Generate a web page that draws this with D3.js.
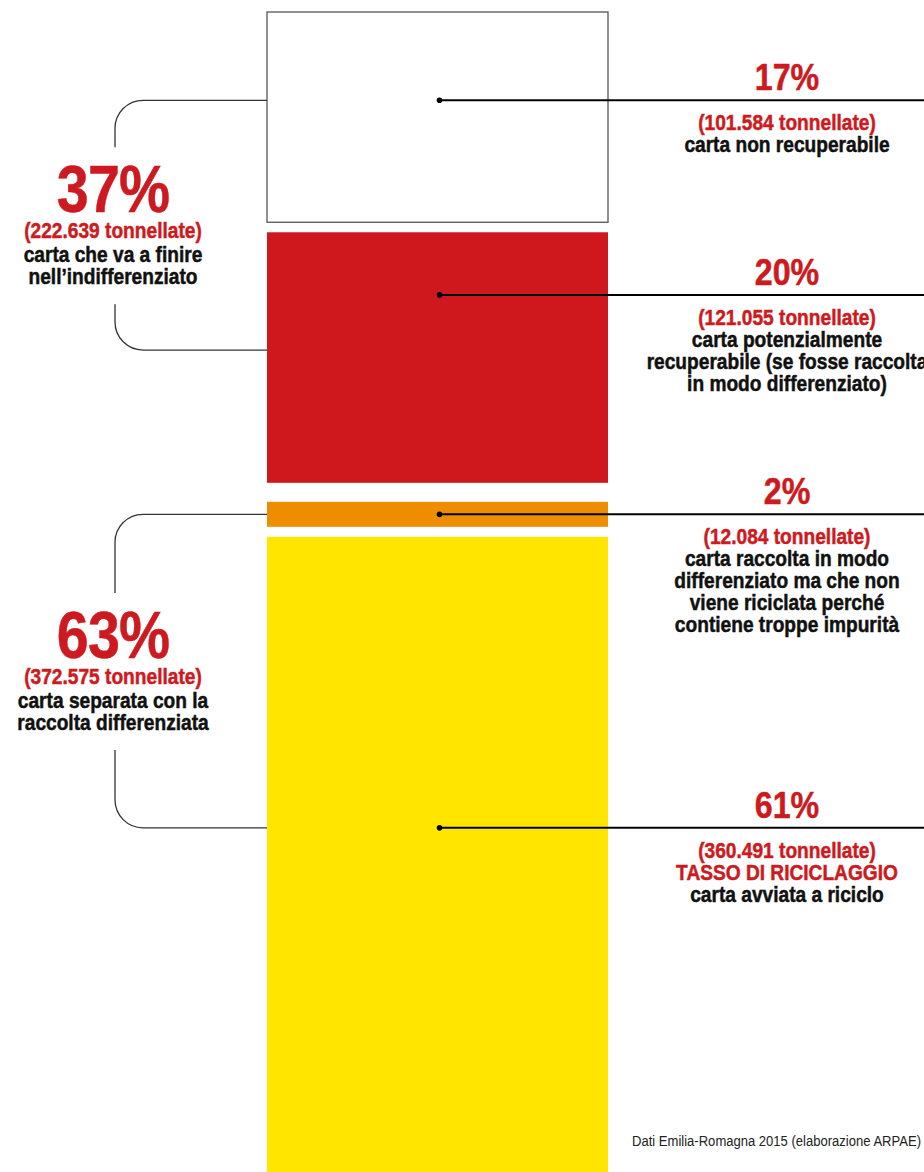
<!DOCTYPE html>
<html>

<head>
    <meta charset="utf-8">
    <script src="https://d3js.org/d3.v7.min.js"></script>
    <title>Carta in Emilia-Romagna</title>
    <style>
        body { margin: 0; background: #fff; }
        svg text {
            font-family: "Liberation Sans", Arial, sans-serif;
            font-weight: bold;
        }
        svg text.heavy { stroke-width: 0.5px; }
    </style>
</head>

<body>
    <div id="chart"></div>

    <script>
        // DATA
        var categories = ["non recuperabile", "potenzialmente recuperabile", "raccolta ma non riciclata", "avviata a riciclo"];
        var tonnes = [101584, 121055, 12084, 360491];
        var percents = ["17%", "20%", "2%", "61%"];
        var highlights = ["", "", "", "TASSO DI RICICLAGGIO"];
        var notes = [
            ["carta non recuperabile"],
            ["carta potenzialmente", "recuperabile (se fosse raccolta", "in modo differenziato)"],
            ["carta raccolta in modo", "differenziato ma che non", "viene riciclata perché", "contiene troppe impurità"],
            ["carta avviata a riciclo"]
        ];

        var groupOf = [0, 0, 1, 1];
        var groupTonnes = [222639, 372575];
        var groupPercents = ["37%", "63%"];
        var groupNotes = [
            ["carta che va a finire", "nell’indifferenziato"],
            ["carta separata con la", "raccolta differenziata"]
        ];

        var source = "Dati Emilia-Romagna 2015 (elaborazione ARPAE)";
        // END DATA

        var width = 924, height = 1172;
        var colors = ["#ffffff", "#ce181e", "#ee8d00", "#ffe500"];
        var red = "#cd1a20", ink = "#111";
        var barLeft = 267, barRight = 608, barTop = 12;
        var innerGap = 10, groupGap = 19;
        var labelX = 787, braceX = 115, braceR = 28;
        var squeeze = 0.87; // condensed look, no narrow font installed
        // where the leader lines / braces leave each segment (fraction of its height)
        var labelAt = [0.42, 0.25, 0.5, 0.39];
        var braceAt = [[0.42, 0.47], [0.5, 0.39]];

        var it = d3.formatLocale({ decimal: ",", thousands: ".", grouping: [3], currency: ["", " €"] });
        var fmt = it.format(",d");

        function place(x, y) {
            return "translate(" + x + "," + y + ") scale(" + squeeze + ",1)";
        }

        var y = d3.scaleLinear()
            .domain([0, d3.sum(tonnes)])
            .range([0, 1232]);

        // stack the segments, with a gap inside a group and a bigger one between groups
        var segs = [];
        var cum = 0, offset = barTop;
        tonnes.forEach(function (t, i) {
            if (i > 0) offset += groupOf[i] === groupOf[i - 1] ? innerGap : groupGap;
            segs.push({ i: i, y0: offset + y(cum), h: y(t) });
            cum += t;
        });
        function along(i, f) { return segs[i].y0 + segs[i].h * f; }

        var svg = d3.select("#chart").append("svg")
            .attr("width", width)
            .attr("height", height);

        svg.selectAll("rect.seg")
            .data(segs)
            .enter().append("rect")
            .attr("class", "seg")
            .attr("x", barLeft)
            .attr("width", barRight - barLeft)
            .attr("y", function (d) { return d.y0; })
            .attr("height", function (d) { return d.h; })
            .style("fill", function (d) { return colors[d.i]; })
            .style("stroke", function (d) { return d.i === 0 ? "#555" : "none"; })
            .style("stroke-width", 1.3);

        // leader lines + right labels
        var cx = (barLeft + barRight) / 2 + 2;
        var lab = svg.selectAll("g.lab")
            .data(segs)
            .enter().append("g")
            .attr("class", "lab")
            .attr("transform", function (d) { return "translate(0," + along(d.i, labelAt[d.i]) + ")"; });

        lab.append("line")
            .attr("x1", cx).attr("x2", width + 5)
            .style("stroke", "#000").style("stroke-width", 2);
        lab.append("circle")
            .attr("cx", cx).attr("r", 2.8)
            .style("fill", "#000");

        lab.append("text")
            .attr("class", "heavy")
            .attr("transform", place(labelX, -10))
            .attr("text-anchor", "middle")
            .style("font-size", "37px").style("fill", red).style("stroke", red)
            .text(function (d) { return percents[d.i]; });

        lab.each(function (d) {
            var rows = [{ t: "(" + fmt(tonnes[d.i]) + " tonnellate)", c: red }];
            if (highlights[d.i]) rows.push({ t: highlights[d.i], c: red });
            notes[d.i].forEach(function (n) { rows.push({ t: n, c: ink }); });
            d3.select(this).selectAll("text.row")
                .data(rows)
                .enter().append("text")
                .attr("class", "row heavy")
                .attr("transform", function (r, k) { return place(labelX, 30 + k * 22); })
                .attr("text-anchor", "middle")
                .style("font-size", "22px")
                .style("fill", function (r) { return r.c; })
                .style("stroke", function (r) { return r.c; })
                .text(function (r) { return r.t; });
        });

        // braces on the left for the two groups
        groupPercents.forEach(function (p, g) {
            var members = d3.range(segs.length).filter(function (i) { return groupOf[i] === g; });
            var top = along(members[0], braceAt[g][0]);
            var bottom = along(members[members.length - 1], braceAt[g][1]);
            var base = (top + bottom) / 2 - 13;
            var tx = braceX - 2;

            var gr = svg.append("g");
            gr.append("text")
                .attr("class", "heavy")
                .attr("transform", place(tx, base))
                .attr("text-anchor", "middle")
                .style("font-size", "66px").style("fill", red).style("stroke", red)
                .style("letter-spacing", "-1px")
                .text(p);
            gr.append("text")
                .attr("class", "heavy")
                .attr("transform", place(tx, base + 26))
                .attr("text-anchor", "middle")
                .style("font-size", "22px").style("fill", red).style("stroke", red)
                .text("(" + fmt(groupTonnes[g]) + " tonnellate)");
            gr.selectAll("text.note")
                .data(groupNotes[g])
                .enter().append("text")
                .attr("class", "note heavy")
                .attr("transform", function (n, k) { return place(tx, base + 50 + k * 22); })
                .attr("text-anchor", "middle")
                .style("font-size", "22px").style("fill", ink).style("stroke", ink)
                .text(function (n) { return n; });

            var gapTop = base - 65, gapBottom = base + 92;
            var path = d3.path();
            path.moveTo(barLeft, top);
            path.lineTo(braceX + braceR, top);
            path.arcTo(braceX, top, braceX, top + braceR, braceR);
            path.lineTo(braceX, gapTop);
            path.moveTo(braceX, gapBottom);
            path.lineTo(braceX, bottom - braceR);
            path.arcTo(braceX, bottom, braceX + braceR, bottom, braceR);
            path.lineTo(barLeft, bottom);
            gr.append("path")
                .attr("d", path.toString())
                .style("fill", "none")
                .style("stroke", "#333")
                .style("stroke-width", 1.3);
        });

        svg.append("text")
            .attr("transform", place(width - 3, 1146))
            .attr("text-anchor", "end")
            .style("font-size", "15px").style("font-weight", "normal").style("fill", "#222")
            .text(source);
    </script>

</body>

</html>
